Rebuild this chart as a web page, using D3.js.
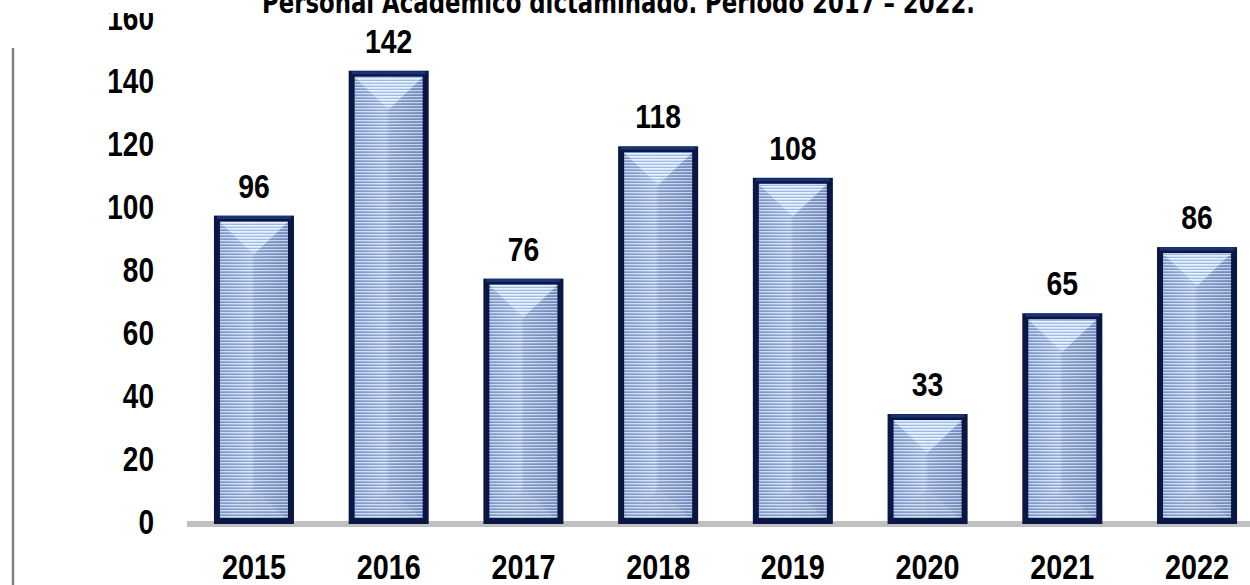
<!DOCTYPE html>
<html lang="es">
<meta charset="utf-8">
<head>
  <title>Personal Académico dictaminado</title>
  <style>
  body { margin: 0; background: #fff; }
  .tick-label, .year-label, .value-label {
    font-family: "Liberation Sans", Arial, sans-serif;
    font-weight: bold;
    fill: #000;
  }
  .title {
    font-family: "DejaVu Sans", "Liberation Sans", sans-serif;
    font-weight: bold;
    fill: #000;
  }
  </style>
</head>
<body>
<svg id="chart" width="1250" height="585"></svg>
<script src="https://cdn.jsdelivr.net/npm/d3@7"></script>
<script>

var years = ["2015", "2016", "2017", "2018", "2019", "2020", "2021", "2022"];
var values = [96, 142, 76, 118, 108, 33, 65, 86];
var yTicks = [0, 20, 40, 60, 80, 100, 120, 140, 160];
var titleText = "Personal Académico dictaminado. Periodo 2017 – 2022.";

var data = years.map(function(y, i) { return {year: y, value: values[i]}; });

var svg = d3.select("#chart");
var baseY = 521;

var xScale = d3.scaleBand()
    .domain(years)
    .range([187, 1264])
    .paddingInner(0.406)
    .paddingOuter(0.2);

var yScale = d3.scaleLinear()
    .domain([0, 160])
    .range([baseY, 17]);

// narrow bold look: squeeze the glyphs horizontally
function narrow(x, y, s) {
  return "translate(" + x + "," + y + ") scale(" + s + ",1)";
}

var defs = svg.append("defs");

// body gradient (left lighter -> right darker)
var grad = defs.append("linearGradient")
    .attr("id", "bodyGrad")
    .attr("x1", "0").attr("x2", "1").attr("y1", "0").attr("y2", "0");
grad.append("stop").attr("offset", "0%").attr("stop-color", "#90a8d4");
grad.append("stop").attr("offset", "45%").attr("stop-color", "#b6c9ea");
grad.append("stop").attr("offset", "50%").attr("stop-color", "#a5b9dd");
grad.append("stop").attr("offset", "100%").attr("stop-color", "#8299c6");

// horizontal stripes
var stripes = defs.append("pattern")
    .attr("id", "stripes")
    .attr("patternUnits", "userSpaceOnUse")
    .attr("width", 4).attr("height", 3);
stripes.append("rect")
    .attr("width", 4).attr("height", 1)
    .attr("fill", "#ffffff").attr("opacity", 0.55);
stripes.append("rect")
    .attr("y", 2).attr("width", 4).attr("height", 1)
    .attr("fill", "#4d6fb0").attr("opacity", 0.35);

// left frame line
svg.append("line")
    .attr("x1", 13).attr("x2", 13)
    .attr("y1", 48).attr("y2", 585)
    .attr("stroke", "#808080")
    .attr("stroke-width", 2.5);

// y tick labels
svg.selectAll(".tick-label")
    .data(yTicks)
    .enter().append("text")
    .attr("class", "tick-label")
    .attr("transform", function(d) { return narrow(154, yScale(d), 0.8); })
    .attr("dy", "0.36em")
    .attr("text-anchor", "end")
    .style("font-size", "35px")
    .text(function(d) { return d; });

// cover the top of the chart area behind the title
svg.append("rect")
    .attr("x", 95).attr("y", 0)
    .attr("width", 920).attr("height", 13)
    .attr("fill", "#fff");

svg.append("text")
    .attr("class", "title")
    .attr("x", 262)
    .attr("y", 13)
    .attr("textLength", 713)
    .attr("lengthAdjust", "spacingAndGlyphs")
    .style("font-size", "30px")
    .text(titleText);

// baseline
svg.append("rect")
    .attr("x", 187).attr("y", baseY)
    .attr("width", 1250 - 187).attr("height", 6)
    .attr("fill", "#c0c0c0");

var bw = xScale.bandwidth();
var bar = svg.selectAll(".bar")
    .data(data)
    .enter().append("g")
    .attr("class", "bar");

function inner(d) {
  var x0 = xScale(d.year) + 5.5, x1 = xScale(d.year) + bw - 5.5;
  var y0 = yScale(d.value) + 3, y1 = baseY;
  return {x0: x0, x1: x1, y0: y0, y1: y1, w: x1 - x0, cx: (x0 + x1) / 2};
}

function depth(b) {
  return Math.min(b.w / 2 * 0.95, (b.y1 - b.y0) / 2);
}

bar.append("rect")
    .attr("x", function(d) { return inner(d).x0; })
    .attr("y", function(d) { return inner(d).y0; })
    .attr("width", function(d) { return inner(d).w; })
    .attr("height", function(d) { return inner(d).y1 - inner(d).y0; })
    .attr("fill", "url(#bodyGrad)");

// top bevel triangle
bar.append("path")
    .attr("d", function(d) {
      var b = inner(d);
      return "M" + b.x0 + "," + b.y0 + "L" + b.x1 + "," + b.y0 + "L" + b.cx + "," + (b.y0 + depth(b)) + "Z";
    })
    .attr("fill", "#d2e5fd")
    .attr("opacity", 0.9);

// bottom bevel triangle
bar.append("path")
    .attr("d", function(d) {
      var b = inner(d);
      return "M" + b.x0 + "," + b.y1 + "L" + b.x1 + "," + b.y1 + "L" + b.cx + "," + (b.y1 - depth(b)) + "Z";
    })
    .attr("fill", "#a3b4d2")
    .attr("opacity", 0.6);

// right half shading
bar.append("path")
    .attr("d", function(d) {
      var b = inner(d);
      return "M" + b.cx + "," + (b.y0 + depth(b)) + "L" + b.x1 + "," + b.y0 + "L" + b.x1 + "," + b.y1 +
        "L" + b.cx + "," + (b.y1 - depth(b)) + "Z";
    })
    .attr("fill", "#6f88b8")
    .attr("opacity", 0.15);

bar.append("rect")
    .attr("x", function(d) { return inner(d).x0; })
    .attr("y", function(d) { return inner(d).y0; })
    .attr("width", function(d) { return inner(d).w; })
    .attr("height", function(d) { return inner(d).y1 - inner(d).y0; })
    .attr("fill", "url(#stripes)");

// frame
bar.append("rect")
    .attr("x", function(d) { return xScale(d.year) + 3; })
    .attr("y", function(d) { return yScale(d.value); })
    .attr("width", bw - 6)
    .attr("height", function(d) { return baseY - yScale(d.value); })
    .attr("fill", "none")
    .attr("stroke", "#0a1744")
    .attr("stroke-width", 6);

bar.append("line")
    .attr("x1", function(d) { return xScale(d.year) + 3; })
    .attr("x2", function(d) { return xScale(d.year) + bw - 3; })
    .attr("y1", function(d) { return yScale(d.value) - 1; })
    .attr("y2", function(d) { return yScale(d.value) - 1; })
    .attr("stroke", "#1a3278")
    .attr("stroke-width", 3);

// value labels
bar.append("text")
    .attr("class", "value-label")
    .attr("transform", function(d) { return narrow(xScale(d.year) + bw / 2, yScale(d.value) - 21, 0.86); })
    .attr("text-anchor", "middle")
    .style("font-size", "33px")
    .text(function(d) { return d.value; });

// year labels
svg.selectAll(".year-label")
    .data(years)
    .enter().append("text")
    .attr("class", "year-label")
    .attr("transform", function(d) { return narrow(xScale(d) + bw / 2, 579, 0.8); })
    .attr("text-anchor", "middle")
    .style("font-size", "36px")
    .text(function(d) { return d; });

</script>
</body>
</html>
